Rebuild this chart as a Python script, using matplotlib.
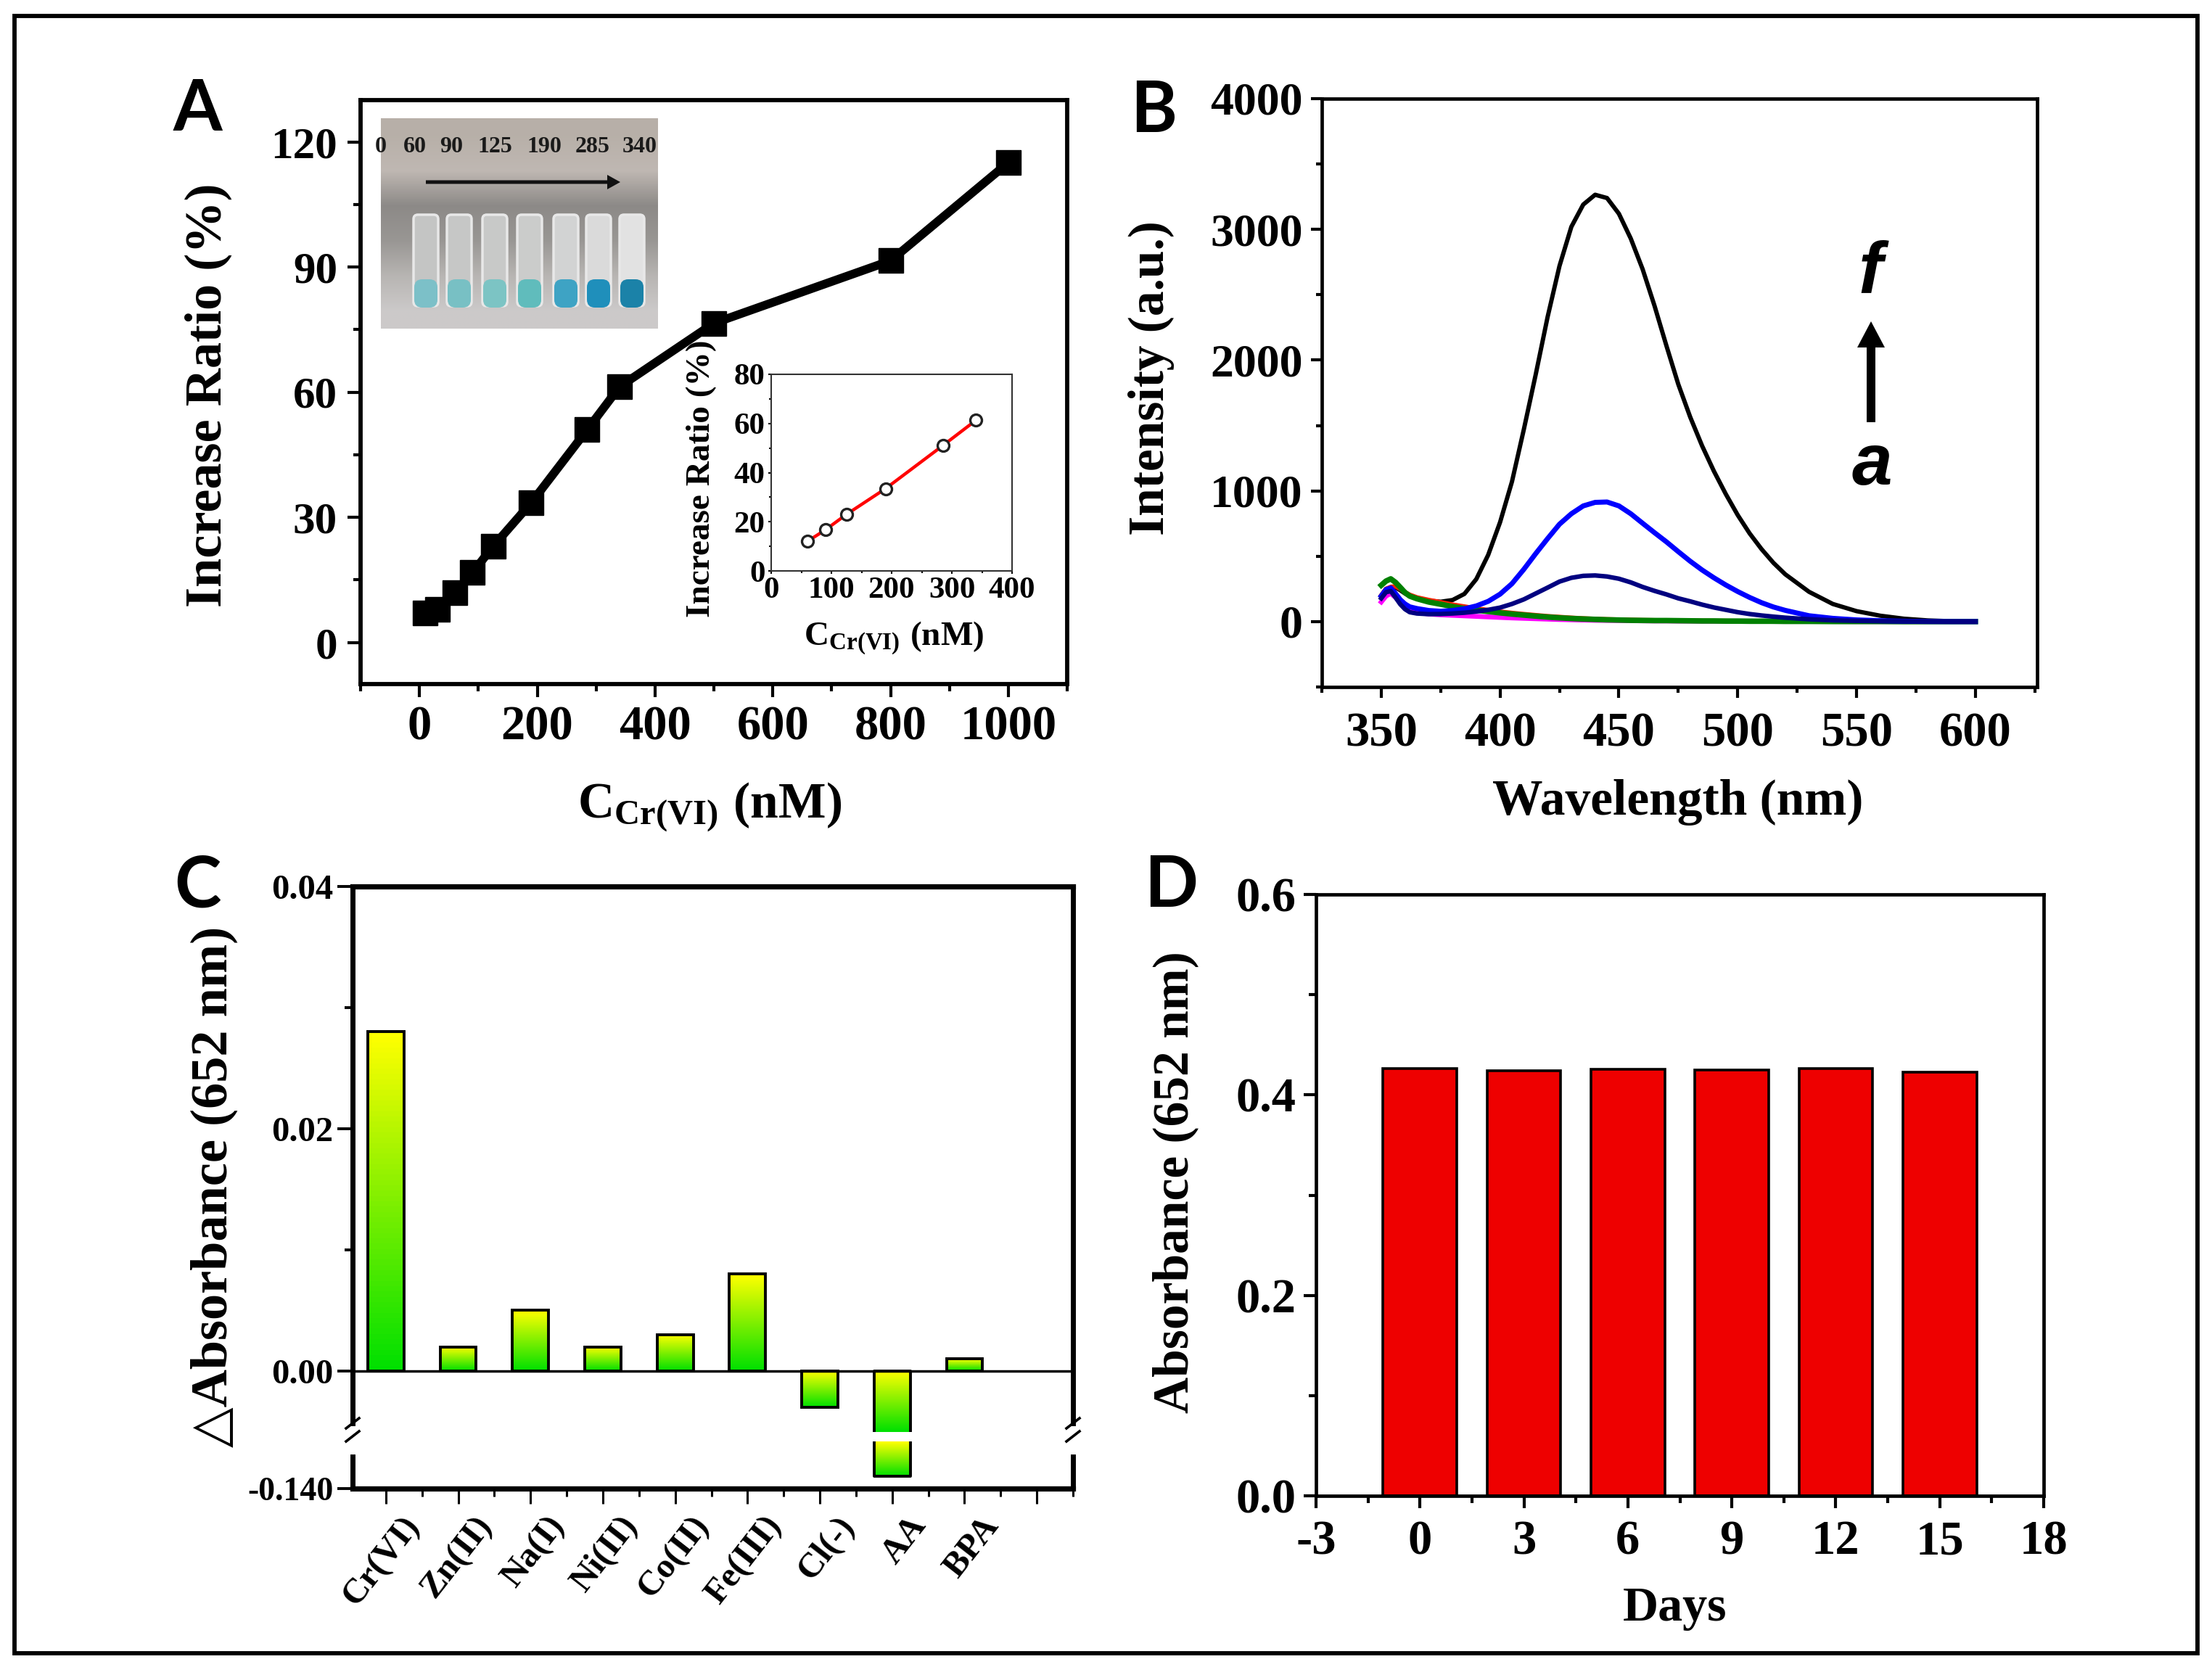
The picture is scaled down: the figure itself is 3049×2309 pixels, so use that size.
import numpy as np
import matplotlib
matplotlib.use("Agg")
import matplotlib.pyplot as plt
from matplotlib.patches import Rectangle, FancyArrow, FancyBboxPatch
from matplotlib.ticker import MultipleLocator, FixedLocator, NullFormatter

W, H = 3049, 2309
SERIF = ['Liberation Serif', 'DejaVu Serif', 'DejaVu Sans']
plt.rcParams['font.family'] = SERIF
plt.rcParams['font.weight'] = 'bold'
plt.rcParams['axes.unicode_minus'] = False
plt.rcParams['mathtext.fontset'] = 'custom'
plt.rcParams['mathtext.rm'] = 'Liberation Serif:bold'
plt.rcParams['mathtext.bf'] = 'Liberation Serif:bold'
plt.rcParams['mathtext.it'] = 'Liberation Serif:bold'
plt.rcParams['mathtext.default'] = 'bf'

# Panel A
conc = [10, 30, 60, 90, 125, 190, 285, 340, 500, 800, 1000]
ratio = [7, 8, 12, 16.7, 23, 33.5, 51, 61.3, 76.5, 91.5, 115]
inset_conc = [60, 90, 125, 190, 285, 340]
inset_ratio = [12, 16.7, 23, 33.5, 51, 61.3]
photo_labels = ['0', '60', '90', '125', '190', '285', '340']

# Panel B
wl = [350,352,354,356,358,360,362,365,370,375,380,385,390,395,400,405,410,415,420,425,430,435,440,445,450,455,460,465,470,475,480,485,490,495,500,505,510,515,520,530,540,550,560,570,580,590,600]
black_f = [200,250,262,262,240,215,195,180,160,152,165,212,325,510,760,1070,1470,1890,2330,2720,3020,3190,3265,3240,3120,2930,2695,2415,2110,1815,1565,1345,1150,975,815,675,555,450,362,228,135,80,45,22,9,3,0]
blue_e = [196,245,258,215,168,135,113,100,85,79,85,98,120,155,210,290,400,520,635,745,825,885,912,915,885,825,752,680,610,535,462,395,335,280,230,185,145,112,86,45,25,13,7,3,1,0,0]
navy_d = [178,225,233,185,133,95,72,62,57,58,62,68,77,90,107,135,170,215,260,306,335,350,353,345,328,300,265,235,208,178,155,130,108,90,72,58,47,38,30,18,10,6,3,2,1,0,0]
green_c = [278,310,327,300,262,222,195,175,150,133,115,100,88,77,67,58,50,42,35,29,24,20,17,14,12,10,9,8,8,7,6,5,5,4,4,3,3,3,2,2,1,1,1,0,0,0,0]
red_b = [200,250,265,270,250,225,205,185,165,148,130,115,100,88,76,66,57,49,41,35,29,24,20,17,15,13,11,10,9,8,7,6,5,5,4,4,3,3,3,2,1,1,1,0,0,0,0]
magenta_a = [150,195,216,185,150,110,85,70,58,52,48,44,40,36,32,28,25,22,19,16,14,12,10,9,8,7,6,5,5,4,4,3,3,3,2,2,2,1,1,1,1,0,0,0,0,0,0]

# Panel C
ions = ['Cr(VI)', 'Zn(II)', 'Na(I)', 'Ni(II)', 'Co(II)', 'Fe(III)', 'Cl(-)', 'AA', 'BPA']
delta_abs = [0.028, 0.002, 0.005, 0.002, 0.003, 0.008, -0.003, -0.132, 0.001]

# Panel D
days = [0, 3, 6, 9, 12, 15]
absorbance = [0.4265, 0.424, 0.4255, 0.4245, 0.426, 0.423]

fig = plt.figure(figsize=(W / 100, H / 100), dpi=100, facecolor='white')


def axpx(l, t, r, b, **kw):
    return fig.add_axes([l / W, 1 - b / H, (r - l) / W, (b - t) / H], **kw)


def tx(x, y, s, **kw):
    kw.setdefault('ha', 'center')
    kw.setdefault('va', 'center')
    kw.setdefault('color', 'black')
    return fig.text(x / W, 1 - y / H, s, **kw)


def style(ax, lw, majlen, minlen, tw, size, pad):
    for s in ax.spines.values():
        s.set_linewidth(lw)
    ax.tick_params(which='major', length=majlen, width=tw, labelsize=size, pad=pad)
    ax.tick_params(which='minor', length=minlen, width=tw)


LETTER = dict(family=['Lato', 'DejaVu Sans'], fontweight='bold', fontsize=70)

# outer frame
fig.add_artist(Rectangle((20 / W, 1 - 2279 / H), (3029 - 20) / W, (2279 - 22) / H,
                         transform=fig.transFigure, fill=False, ec='black', lw=4.2))

# --- A ---
axA = axpx(497, 138, 1471, 943)
axA.plot(conc, ratio, '-s', color='black', lw=8.5, ms=24, mec='black', mfc='black')
axA.set_xlim(-100, 1100)
axA.set_ylim(-10, 130)
axA.set_xticks([0, 200, 400, 600, 800, 1000])
axA.set_yticks([0, 30, 60, 90, 120])
axA.xaxis.set_minor_locator(MultipleLocator(100))
axA.yaxis.set_minor_locator(MultipleLocator(15))
style(axA, 4.2, 13, 7, 3, 44, 10)
axA.tick_params(axis='x', labelsize=48, pad=8)
tx(287, 545, 'Increase Ratio (%)', rotation=90, fontsize=52)
tx(978, 1113, r'$\mathbf{C_{Cr(VI)}\ (nM)}$', fontsize=50)
tx(272, 151, 'A', **LETTER)

# inset photo
axP = axpx(525, 163, 907, 453)
axP.set_xlim(0, 382)
axP.set_ylim(290, 0)
axP.axis('off')
bg_rows = [[0.72, 0.69, 0.66], [0.75, 0.72, 0.70], [0.55, 0.54, 0.53], [0.60, 0.59, 0.58],
           [0.72, 0.71, 0.70], [0.80, 0.79, 0.79]]
grad = np.array(bg_rows).reshape(6, 1, 3)
axP.imshow(grad, extent=[0, 382, 290, 0], aspect='auto', interpolation='bilinear')
liquid = ['#7cc0c8', '#78c0c4', '#7cc4c4', '#60bcbc', '#3ea3c4', '#1f8fbb', '#1b82a8']
tube_x = [62, 108, 157, 205, 255, 300, 346]
tube_fc = ['#c4c5c4', '#c6c7c6', '#c8c9c8', '#cbcccb', '#d2d3d3', '#dadada', '#e2e2e2']
for xc, col, fc in zip(tube_x, liquid, tube_fc):
    axP.add_patch(FancyBboxPatch((xc - 16, 134), 32, 124, boxstyle='round,pad=1,rounding_size=6',
                                 fc=fc, ec='#e8e8e8', lw=2.5))
    axP.add_patch(FancyBboxPatch((xc - 16, 222), 32, 39, boxstyle='round,pad=0,rounding_size=11',
                                 fc=col, ec='none'))
for xc, s in zip([0, 47, 97, 157, 225, 292, 357], photo_labels):
    axP.text(xc, 40, s, ha='center', va='center', fontsize=23, color='#1a1a1a', clip_on=False)
axP.add_patch(FancyArrow(62, 88, 268, 0, width=5, head_width=20, head_length=18,
                         length_includes_head=True, color='#111111', lw=0))

# inset chart
axI = axpx(1063, 516, 1395, 787)
axI.plot(inset_conc, inset_ratio, color='#ff0000', lw=3.2, zorder=2)
axI.plot(inset_conc, inset_ratio, 'o', ms=11.5, mfc='white', mec='#222222', mew=2.4, zorder=3)
axI.set_xlim(0, 400)
axI.set_ylim(0, 80)
axI.set_xticks([0, 100, 200, 300, 400])
axI.set_yticks([0, 20, 40, 60, 80])
axI.xaxis.set_minor_locator(MultipleLocator(50))
axI.yaxis.set_minor_locator(MultipleLocator(10))
style(axI, 1.5, 3, 2, 1.5, 31, 3)
for s in axI.spines.values():
    s.set_color('#333333')
tx(967, 660, 'Increase Ratio (%)', rotation=90, fontsize=34)
tx(1232, 880, r'$\mathbf{C_{Cr(VI)}\ (nM)}$', fontsize=34)

# --- B ---
axB = axpx(1822, 136, 2808, 947)
series_b = [(black_f, '#000000', 4.3), (red_b, '#ff2000', 4.5), (magenta_a, '#ff00ff', 4.8),
            (green_c, '#008000', 5.5), (blue_e, '#0000ff', 5.0), (navy_d, '#000080', 4.5)]
for vals, col, lw in series_b:
    axB.plot(wl, vals, color=col, lw=lw, solid_joinstyle='round')
axB.set_xlim(325, 626)
axB.set_ylim(-500, 4000)
axB.set_xticks([350, 400, 450, 500, 550, 600])
axB.set_yticks([0, 1000, 2000, 3000, 4000])
axB.xaxis.set_minor_locator(MultipleLocator(25))
axB.yaxis.set_minor_locator(MultipleLocator(500))
style(axB, 3.4, 11, 6, 3, 46, 8)
axB.tick_params(axis='x', labelsize=48, pad=14)
tx(1587, 521, 'Intensity (a.u.)', rotation=90, fontsize=50)
tx(2313, 1106, 'Wavelength (nm)', fontsize=50)
tx(1590, 153, 'B', **LETTER)
SANS = ['Liberation Sans', 'DejaVu Sans']
tx(2578, 377, 'f', family=SANS, style='italic', fontweight='bold', fontsize=72)
tx(2580, 642, 'a', family=SANS, style='italic', fontweight='bold', fontsize=72)
fig.add_artist(FancyArrow(2579 / W, 1 - 582 / H, 0, (582 - 443) / H, width=12 / W, head_width=38 / W,
                          head_length=36 / H, length_includes_head=True, color='black', lw=0,
                          transform=fig.transFigure))

# --- C ---
split_up = -0.00503
axC = axpx(486, 1222, 1479, 1974)
axC2 = axpx(486, 1987, 1479, 2052)
XL = (0.54, 10.5)
axC.set_xlim(*XL)
axC2.set_xlim(*XL)
axC.set_ylim(split_up, 0.04)
axC2.set_ylim(-0.14, -0.11)
xpos = np.arange(1, len(ions) + 1)
gradc = np.linspace(0, 1, 64).reshape(-1, 1)
cmapc = matplotlib.colors.LinearSegmentedColormap.from_list('yg', ['#ffff00', '#00e000'])
bw = 0.5


def gbar(ax, x, top, bottom):
    im = ax.imshow(gradc, extent=[x - bw / 2, x + bw / 2, bottom, top], aspect='auto',
                   cmap=cmapc, zorder=2, vmin=0, vmax=1)
    return im


for x, v in zip(xpos, delta_abs):
    if v > split_up:
        top, bot = max(v, 0), min(v, 0)
        gbar(axC, x, top, bot)
        axC.add_patch(Rectangle((x - bw / 2, bot), bw, top - bot, fill=False, ec='black', lw=2.8, zorder=3))
    else:
        gbar(axC, x, 0, split_up)
        axC.plot([x - bw / 2, x - bw / 2, x + bw / 2, x + bw / 2], [split_up, 0, 0, split_up], color='black', lw=2.8, zorder=3)
        gbar(axC2, x, -0.11, v)
        axC2.plot([x - bw / 2, x - bw / 2, x + bw / 2, x + bw / 2], [-0.11, v, v, -0.11], color='black', lw=2.8, zorder=3)
axC.set_xlim(*XL)
axC.set_ylim(split_up, 0.04)
axC2.set_xlim(*XL)
axC2.set_ylim(-0.14, -0.11)
axC.axhline(0, color='black', lw=2.5, zorder=4)
axC.patch.set_alpha(0)
axC2.patch.set_alpha(0)
axC.spines['bottom'].set_visible(False)
axC2.spines['top'].set_visible(False)
for s in ['left', 'right']:
    axC.spines[s].set_bounds(-0.0043, 0.04)
    axC2.spines[s].set_bounds(-0.14, -0.1195)
axC.set_yticks([0, 0.02, 0.04])
axC.set_yticklabels(['0.00', '0.02', '0.04'])
axC.yaxis.set_minor_locator(FixedLocator([0.01, 0.03]))
axC.set_xticks([])
axC2.set_yticks([-0.14])
axC2.set_yticklabels(['-0.140'])
axC2.set_xticks(list(range(1, 11)))
axC2.set_xticklabels([])
axC2.xaxis.set_minor_locator(MultipleLocator(0.5))
axC2.xaxis.set_minor_formatter(NullFormatter())
style(axC, 5, 15, 8, 2.8, 35, 4)
style(axC2, 5, 15, 8, 2.8, 33, 4)
axC2.tick_params(axis='x', which='major', width=2.2)
axC2.tick_params(axis='x', which='minor', width=2.2)
axC.tick_params(axis='y', which='minor', length=8)
axC.spines['top'].set_linewidth(5.2)
axC2.spines['bottom'].set_linewidth(5.2)
for x, s in zip(xpos, ions):
    xd = axC2.transData.transform((x, -0.14))[0]
    fig.text(xd / W + 0.007, 1 - 2082 / H, s, rotation=52, ha='right', va='top', rotation_mode='anchor',
             fontsize=35, color='black')
# break marks
for xs in (486, 1479):
    for yb in (1962, 1980):
        fig.add_artist(plt.Line2D([(xs - 9) / W, (xs + 9) / W], [1 - (yb + 7) / H, 1 - (yb - 7) / H],
                                  color='black', lw=2.6, transform=fig.transFigure))
tx(295, 1636, '△Absorbance (652 nm)', rotation=90, fontsize=52, family=SERIF)
tx(272, 1222, 'C', **LETTER)

# --- D ---
axD = axpx(1814, 1233, 2817, 2062)
axD.bar(days, absorbance, width=2.13, color='#ee0000', edgecolor='black', linewidth=2.6, zorder=2)
axD.set_xlim(-3, 18)
axD.set_ylim(0, 0.6)
axD.set_xticks([-3, 0, 3, 6, 9, 12, 15, 18])
axD.set_yticks([0, 0.2, 0.4, 0.6])
axD.xaxis.set_minor_locator(MultipleLocator(1.5))
axD.yaxis.set_minor_locator(MultipleLocator(0.1))
style(axD, 3.4, 12, 7, 3, 48, 8)
axD.tick_params(axis='x', pad=12)
tx(1620, 1630, 'Absorbance (652 nm)', rotation=90, fontsize=50)
tx(2309, 2218, 'Days', fontsize=49)
tx(1614, 1222, 'D', **LETTER)

fig.savefig('out.png', dpi=100, facecolor='white')
